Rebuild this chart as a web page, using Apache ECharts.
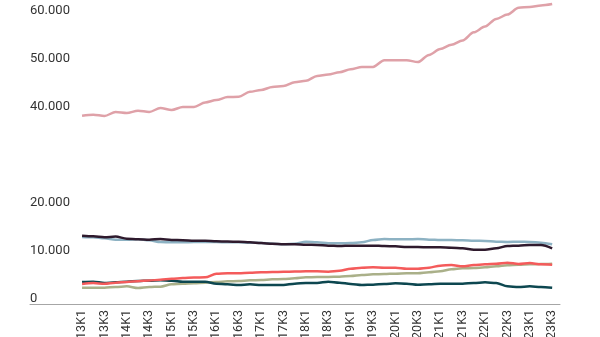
<!DOCTYPE html>
<html>
<head>
<meta charset="utf-8">
<script src="https://cdn.jsdelivr.net/npm/echarts@6/dist/echarts.min.js"></script>
<style>
  html, body { margin: 0; padding: 0; background: #ffffff; }
  #chart { width: 600px; height: 337px; }
</style>
</head>
<body>
<div id="chart"></div>
<script>
// Quarters 2013 K1 .. 2023 K3
const categories = [
  '13K1','13K2','13K3','13K4','14K1','14K2','14K3','14K4',
  '15K1','15K2','15K3','15K4','16K1','16K2','16K3','16K4',
  '17K1','17K2','17K3','17K4','18K1','18K2','18K3','18K4',
  '19K1','19K2','19K3','19K4','20K1','20K2','20K3','20K4',
  '21K1','21K2','21K3','21K4','22K1','22K2','22K3','22K4',
  '23K1','23K2','23K3'
];
// Every second quarter gets a label
const tickIndexes = [0,2,4,6,8,10,12,14,16,18,20,22,24,26,28,30,32,34,36,38,40,42];
// Value labels on the left (30.000 is left out)
const yTicks = [0, 10000, 20000, 40000, 50000, 60000];

const seriesRose = [39230, 39440, 39170, 40000, 39790, 40280, 40000, 40830, 40420, 41040, 41040,
  42000, 42500, 43100, 43200, 44200, 44600, 45200, 45400, 46200, 46500, 47500, 47800, 48300,
  48900, 49400, 49400, 50800, 50800, 50800, 50400, 51900, 53100, 54000, 54900, 56600, 57800,
  59400, 60300, 61700, 61900, 62200, 62500];
const seriesDark = [14240, 14100, 13900, 14050, 13600, 13500, 13400, 13550, 13350, 13300, 13200,
  13200, 13050, 13000, 12950, 12850, 12700, 12550, 12450, 12450, 12350, 12300,
  12150, 12080, 12150, 12150, 12150, 12080, 12010, 11880, 11880, 11810, 11810, 11740, 11600,
  11320, 11320, 11600, 12080, 12150, 12290, 12290, 11600];
const seriesBlue = [13960, 13900, 13680, 13400, 13400, 13470, 13260, 12920, 12850, 12850, 12920,
  12920, 12920, 12850, 12850, 12780, 12710, 12570, 12430, 12570, 12990, 12850,
  12640, 12640, 12710, 12850, 13330, 13540, 13470, 13470, 13540, 13400, 13330, 13330, 13260,
  13190, 13130, 12990, 12920, 12990, 12920, 12780, 12430];
const seriesRed = [4170, 4350, 4240, 4450, 4600, 4750, 4900, 5050, 5250, 5400, 5500,
  5550, 6300, 6390, 6390, 6500, 6600, 6650, 6700, 6750, 6800, 6800,
  6740, 6940, 7360, 7570, 7640, 7570, 7570, 7360, 7360, 7570, 7990, 8130, 7850,
  8130, 8260, 8400, 8610, 8330, 8540, 8260, 8190];
const seriesTeal = [4580, 4650, 4380, 4510, 4650, 4790, 4860, 4930, 4860, 4650, 4650,
  4650, 4240, 4100, 3960, 4100, 3960, 3960, 3960, 4240, 4380, 4380,
  4650, 4440, 4170, 3960, 4030, 4170, 4310, 4240, 4030, 4100, 4240, 4240, 4240,
  4380, 4510, 4380, 3680, 3540, 3680, 3540, 3400];
const seriesOlive = [3400, 3400, 3400, 3540, 3680, 3330, 3540, 3610, 4100, 4240, 4310,
  4440, 4580, 4720, 4790, 4930, 5000, 5140, 5210, 5350, 5560, 5630,
  5630, 5690, 5830, 6040, 6180, 6250, 6320, 6390, 6390, 6600, 6810, 7220, 7430,
  7500, 7640, 7850, 8060, 8190, 8260, 8330, 8400];

const FONT = 'Roboto, "Noto Sans", sans-serif';

function dutchNumber(v) {
  return String(Math.round(v)).replace(/\B(?=(\d{3})+(?!\d))/g, '.');
}
function pairs(values) {
  return values.map((v, i) => [i, v]);
}
function line(name, values, color, width) {
  return {
    name: name,
    type: 'line',
    data: pairs(values),
    showSymbol: false,
    smooth: 0.3,
    smoothMonotone: 'x',
    clip: false,
    silent: true,
    lineStyle: { color: color, width: width },
    itemStyle: { color: color }
  };
}

const chart = echarts.init(document.getElementById('chart'), null, { renderer: 'canvas' });
chart.setOption({
  animation: false,
  backgroundColor: '#ffffff',
  grid: { left: 30, right: 40, top: 16, bottom: 33, containLabel: false, outerBoundsMode: 'none' },
  xAxis: {
    type: 'value',
    min: -4.65,
    max: 42.7,
    splitLine: { show: false },
    axisTick: { show: false },
    axisLine: { show: true, lineStyle: { color: '#a6a6a6', width: 1 } },
    axisLabel: {
      customValues: tickIndexes,
      formatter: v => categories[v] || '',
      rotate: 90,
      margin: 6,
      color: '#333333',
      fontSize: 12.5,
      fontFamily: FONT
    }
  },
  yAxis: {
    type: 'value',
    min: 0,
    max: 60000,
    interval: 10000,
    splitLine: { show: false },
    axisLine: { show: false },
    axisTick: { show: false },
    axisLabel: {
      customValues: yTicks,
      inside: true,
      margin: 0,
      verticalAlign: 'bottom',
      lineHeight: 10,
      formatter: v => dutchNumber(v),
      color: '#333333',
      fontSize: 13,
      fontFamily: FONT
    }
  },
  series: [
    line('olive', seriesOlive, '#aab089', 2.5),
    line('teal', seriesTeal, '#0d4750', 2.5),
    line('red', seriesRed, '#f45b5b', 2.5),
    line('blue', seriesBlue, '#8db2c3', 2.5),
    line('dark', seriesDark, '#2f1a2d', 2.5),
    line('rose', seriesRose, '#dfa1a8', 2.5)
  ]
});
</script>
</body>
</html>
